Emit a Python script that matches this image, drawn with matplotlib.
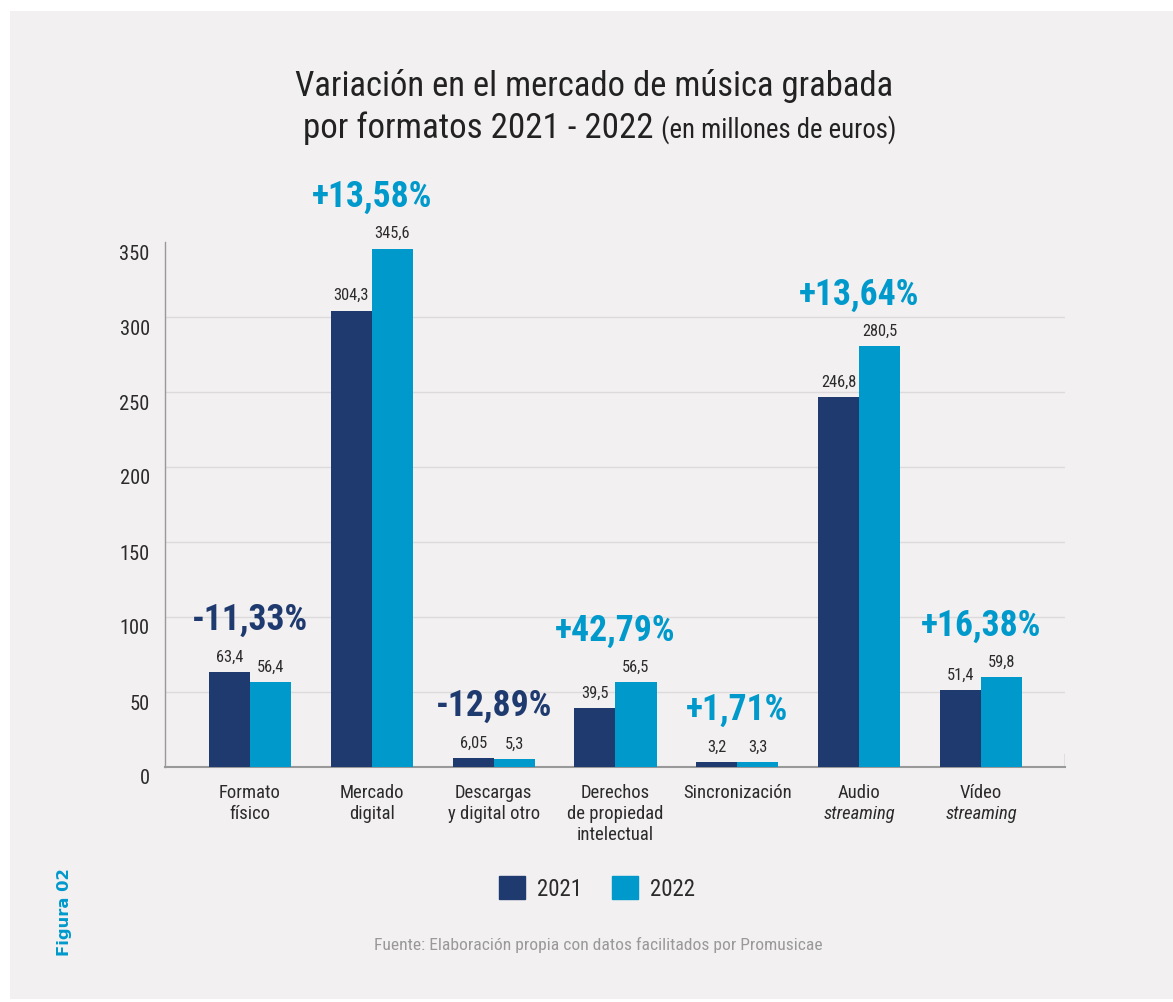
import matplotlib
matplotlib.use("Agg")
import matplotlib.pyplot as plt
from matplotlib.patches import Rectangle, Patch
from matplotlib.transforms import ScaledTranslation, blended_transform_factory
from matplotlib.font_manager import FontProperties, fontManager
from matplotlib.textpath import TextPath
import numpy as np

names = {f.name for f in fontManager.ttflist}
FAM = next(n for n in ["Roboto Condensed", "Open Sans Condensed", "Liberation Sans Narrow",
                       "Fira Sans Condensed", "Lato", "DejaVu Sans"] if n in names)
plt.rcParams['font.family'] = [FAM, 'DejaVu Sans']

categories_l1 = ["Formato", "Mercado", "Descargas", "Derechos", "Sincronización", "Audio", "Vídeo"]
categories_l2 = ["físico", "digital", "y digital otro", "de propiedad", "", "streaming", "streaming"]
categories_l3 = ["", "", "", "intelectual", "", "", ""]
italic_l2 = [False, False, False, False, False, True, True]
v2021 = [63.4, 304.3, 6.05, 39.5, 3.2, 246.8, 51.4]
v2022 = [56.4, 345.6, 5.3, 56.5, 3.3, 280.5, 59.8]
lab2021 = ["63,4", "304,3", "6,05", "39,5", "3,2", "246,8", "51,4"]
lab2022 = ["56,4", "345,6", "5,3", "56,5", "3,3", "280,5", "59,8"]
pct = ["-11,33%", "+13,58%", "-12,89%", "+42,79%", "+1,71%", "+13,64%", "+16,38%"]
yticks = [0, 50, 100, 150, 200, 250, 300, 350]
grid_vals = [50, 100, 150, 200, 250, 300]

DARK = "#1f3a6e"
LIGHT = "#0099cc"
BG = "#f2f0f1"
TXT = "#2b2b2b"


def fit(text, px, weight="normal", style="normal", family=FAM):
    fp = FontProperties(family=family, weight=weight, style=style)
    wu = TextPath((0, 0), text, size=1, prop=fp).get_extents().width
    return px * 0.72 / wu


fig = plt.figure(figsize=(11.73, 10.03), dpi=100)
fig.patch.set_facecolor("white")
fig.patches.append(Rectangle((10/1173, 3/1003), 1 - 10/1173, 1 - 15/1003,
                             transform=fig.transFigure, facecolor=BG, edgecolor="none", zorder=-10))

ax = fig.add_axes([165/1173, 235/1003, 900/1173, 525/1003])
ax.set_facecolor("none")
x = np.arange(len(v2021))
w = 0.337
ax.bar(x - w/2, v2021, w, color=DARK, zorder=3)
ax.bar(x + w/2, v2022, w, color=LIGHT, zorder=3)
ax.set_xlim(-0.698, 6.69)
ax.set_ylim(0, 350)

for g in grid_vals:
    ax.axhline(g, color="#dcdadb", lw=1, zorder=1)

for s in ["top", "right"]:
    ax.spines[s].set_visible(False)
ax.spines["left"].set_color("#999999")
ax.spines["bottom"].set_color("#999999")
ax.spines["left"].set_linewidth(1)
ax.spines["bottom"].set_linewidth(1.5)
ax.axvline(6.69, ymin=0, ymax=13/525, color="#999999", lw=1)

fs_tick = fit("350", 28)
ax.set_xticks([])
ax.set_yticks(yticks)
ax.tick_params(axis="y", length=0, pad=11, labelsize=fs_tick, labelcolor=TXT)
for lbl in ax.get_yticklabels():
    lbl.set_transform(lbl.get_transform() + ScaledTranslation(0, -9/100, fig.dpi_scale_trans))

fs_val = fit("63,4", 26)
fs_pct = fit("+13,58%", 118, weight="bold")
for i in range(len(x)):
    ax.annotate(lab2021[i], (x[i] - w/2, v2021[i]), xytext=(0, 6), textcoords="offset points",
                ha="center", va="bottom", fontsize=fs_val, color=TXT)
    ax.annotate(lab2022[i], (x[i] + w/2, v2022[i]), xytext=(0, 6), textcoords="offset points",
                ha="center", va="bottom", fontsize=fs_val, color=TXT)
    col = DARK if pct[i].startswith("-") else LIGHT
    ax.annotate(pct[i], (x[i], max(v2021[i], v2022[i])), xytext=(0, 38), textcoords="offset points",
                ha="center", va="center", fontsize=fs_pct, fontweight="bold", color=col)

fs_cat = fit("Sincronización", 106)
tr = blended_transform_factory(ax.transData, ax.transAxes)
for i in range(len(x)):
    lines = [(categories_l1[i], False), (categories_l2[i], italic_l2[i]), (categories_l3[i], False)]
    for j, (t, it) in enumerate(lines):
        if not t:
            continue
        ax.text(x[i], -(25 + 21*j)/525, t, transform=tr, ha="center", va="center",
                fontsize=fs_cat, color=TXT, style="italic" if it else "normal")

# Title
title1 = "Variación en el mercado de música grabada"
fs_t1 = fit(title1, 595)
fig.text(594/1173, 1 - 86/1003, title1, ha="center", va="center", fontsize=fs_t1, color="#222222")
s1 = "por formatos 2021 - 2022"
s2 = "(en millones de euros)"
fs_s1 = fit(s1, 347)
fs_s2 = fit(s2, 232)
fig.text(303/1173, 1 - 128/1003, s1, ha="left", va="center", fontsize=fs_s1, color="#222222")
fig.text(661/1173, 1 - 130/1003, s2, ha="left", va="center", fontsize=fs_s2, color="#222222")

fs_leg = fit("2021", 40)
lpx = fs_leg * 100 / 72
handles = [Patch(color=DARK, label="2021"), Patch(color=LIGHT, label="2022")]
fig.legend(handles=handles, loc="center", bbox_to_anchor=(597/1173, 1 - 889/1003), ncol=2, frameon=False,
           fontsize=fs_leg, handlelength=26/lpx, handleheight=27/lpx, handletextpad=12/lpx,
           columnspacing=29/lpx, labelcolor=TXT, borderpad=0, borderaxespad=0)

src = "Fuente: Elaboración propia con datos facilitados por Promusicae"
fig.text(598/1173, 1 - 945/1003, src, ha="center", va="center", fontsize=fit(src, 445), color="#999999")
fig.text(65/1173, 1 - 912/1003, "Figura 02", rotation=90, ha="center", va="center",
         fontsize=fit("Figura 02", 85, weight="bold", family="DejaVu Sans"), fontweight="bold",
         color=LIGHT, family=["DejaVu Sans"])

fig.savefig("out.png", dpi=100, facecolor=fig.get_facecolor())
